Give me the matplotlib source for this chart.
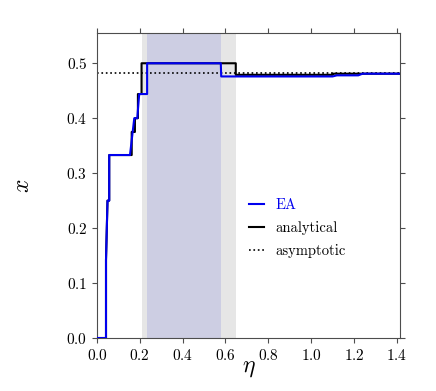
import numpy as np
import matplotlib
matplotlib.use('Agg')
import matplotlib.pyplot as plt

plt.rcParams['font.family'] = 'serif'
plt.rcParams['font.serif'] = ['cmr10']
plt.rcParams['mathtext.fontset'] = 'cm'
plt.rcParams['axes.formatter.use_mathtext'] = True

# EA result (stepwise)
eta_ea = [0.0, 0.042, 0.042, 0.049, 0.057, 0.057, 0.154, 0.174, 0.188, 0.197,
          0.234, 0.234, 0.578, 0.580, 1.10, 1.12, 1.22, 1.24, 1.414]
x_ea = [0.0, 0.0, 0.142, 0.25, 0.25, 0.333, 0.333, 0.40, 0.40, 0.444,
        0.444, 0.5, 0.5, 0.476, 0.476, 0.478, 0.478, 0.481, 0.481]

# analytical solution
eta_an = [0.0, 0.042, 0.042, 0.049, 0.057, 0.057, 0.162, 0.162, 0.177, 0.177,
          0.191, 0.191, 0.208, 0.208, 0.648, 0.648, 1.10, 1.10, 1.414]
x_an = [0.0, 0.0, 0.142, 0.25, 0.25, 0.333, 0.333, 0.375, 0.375, 0.40,
        0.40, 0.444, 0.444, 0.5, 0.5, 0.479, 0.479, 0.481, 0.481]

x_asym = 0.4825
span_an = (0.208, 0.648)
span_ea = (0.234, 0.578)

fig = plt.figure(figsize=(4.36, 3.91), dpi=100)
ax = fig.add_axes([0.2225, 0.1355, 0.6945, 0.78])

ax.axvspan(*span_an, color='#e6e6e6', lw=0, zorder=0)
ax.axvspan(*span_ea, color='#cdcee3', lw=0, zorder=0)

ax.axhline(x_asym, color='black', ls=':', lw=1.2, label='asymptotic', zorder=1)
ax.plot(eta_an, x_an, color='black', lw=1.5, label='analytical', zorder=2)
ax.plot(eta_ea, x_ea, color='#0000ee', lw=1.5, label='EA', zorder=3)

ax.set_xlim(0, 1.414)
ax.set_ylim(0, 0.555)
ax.set_xticks(np.arange(0, 1.41, 0.2))
ax.set_yticks(np.arange(0, 0.51, 0.1))
ax.tick_params(direction='out', top=True, right=True, labelsize=11, color='0.3')
for s in ax.spines.values():
    s.set_color('0.3')

ax.set_xlabel(r'$\eta$', fontsize=17, labelpad=-4)
ax.set_ylabel(r'$x$', fontsize=17, labelpad=23)

handles, labels = ax.get_legend_handles_labels()
order = [2, 1, 0]
leg = ax.legend([handles[i] for i in order], [labels[i] for i in order],
                loc='upper left', bbox_to_anchor=(0.46, 0.50), frameon=False,
                handlelength=1.0, labelspacing=0.62, fontsize=10.5)
leg.get_texts()[0].set_color('#0000ee')

fig.savefig('out.png', dpi=100)
